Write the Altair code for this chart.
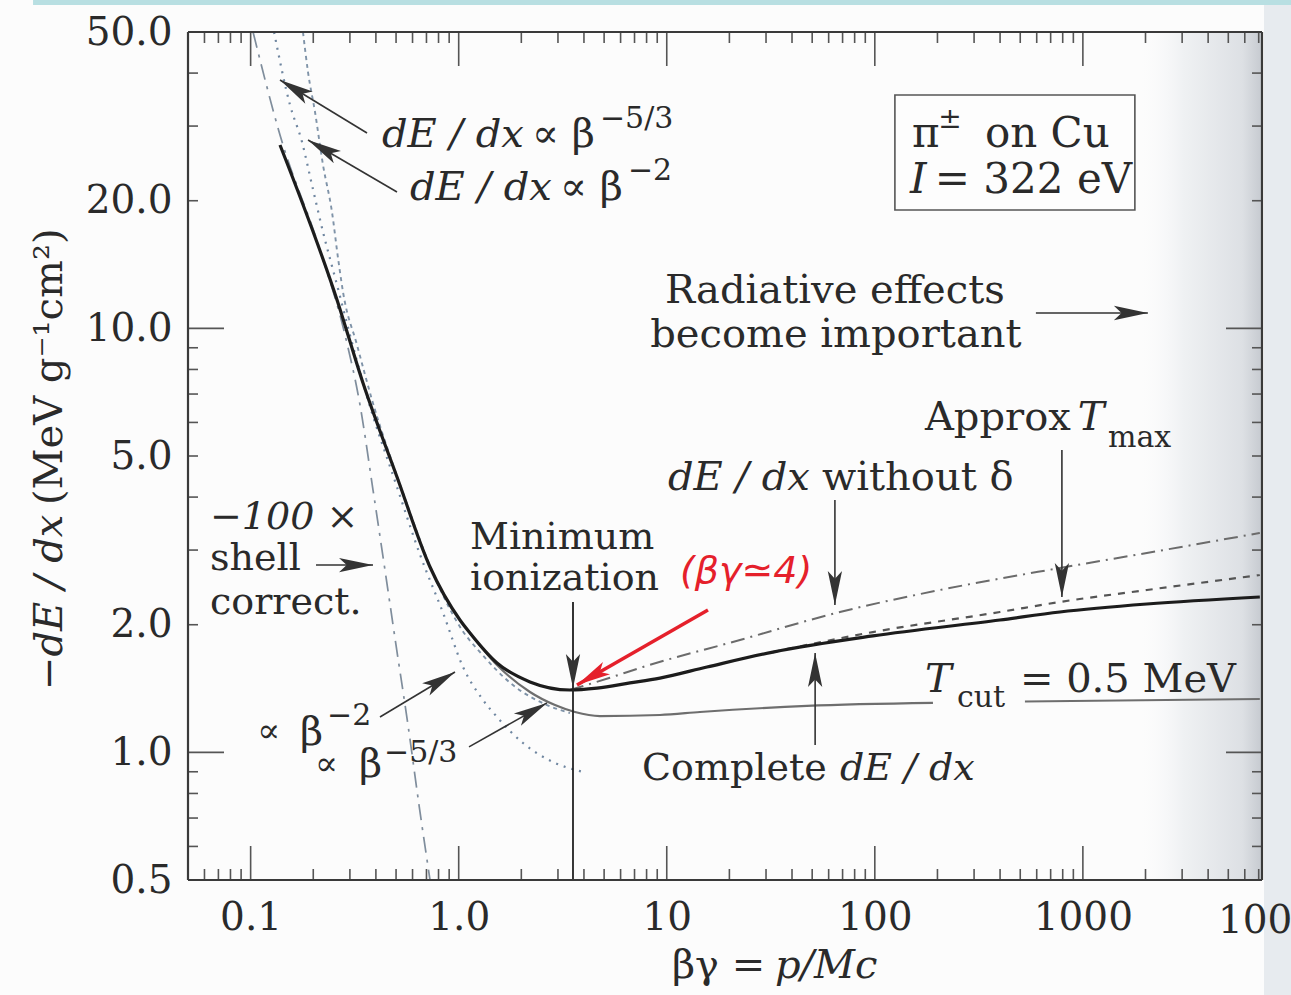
import altair as alt
import numpy as np
import pandas as pd

# ---------------------------------------------------------------
# Stopping power of pions in copper: -dE/dx (MeV g^-1 cm^2) vs βγ
# ---------------------------------------------------------------

# Complete dE/dx
complete_bg = [0.1384, 0.2602, 0.3468, 0.5052, 0.728, 1.014, 1.133, 1.528, 2.201,
               3.426, 4.619, 6.657, 9.275, 15.61, 32.38, 97.9, 399.3, 775.6, 2030, 7088]
complete_v = [27.07, 11.67, 7.43, 4.46, 2.736, 2.052, 1.912, 1.625, 1.466,
              1.403, 1.418, 1.458, 1.497, 1.590, 1.724, 1.882, 2.052, 2.143, 2.238, 2.325]

# dE/dx without density-effect correction
nodelta_bg = [3.426, 5.333, 7.687, 22.48, 67.95, 205.5, 775.6, 2030, 7088]
nodelta_v = [1.403, 1.50, 1.590, 1.841, 2.143, 2.415, 2.722, 2.953, 3.292]

# Approximate T_max
tmax_bg = [32.38, 97.9, 399.3, 775.6, 2030, 7088]
tmax_v = [1.724, 1.922, 2.143, 2.263, 2.415, 2.620]

# Restricted loss, T_cut = 0.5 MeV (two pieces, broken under its label)
tcut_bg = [1.133, 1.528, 2.201, 2.903, 3.622, 4.775, 9.275, 14.44, 47.19, 190.3, 526.8, 7088]
tcut_v = [1.912, 1.607, 1.388, 1.293, 1.245, 1.218, 1.225, 1.245, 1.287, 1.308, 1.318, 1.336]
tcut_seg = [0, 0, 0, 0, 0, 0, 0, 0, 0, 0, 1, 1]

# -100 x shell correction
shell_bg = [0.1027, 0.1384, 0.2156, 0.2842, 0.3355, 0.3875, 0.4423, 0.4996, 0.5706, 0.6446, 0.728]
shell_v = [50.0, 28.58, 15.30, 9.645, 6.597, 4.157, 2.692, 1.792, 1.160, 0.7513, 0.5]

# Low-energy power-law forms
beta2_bg = [0.1296, 0.1546, 0.1766, 0.1972, 0.2228, 0.2602, 0.3003, 0.3547, 0.5052,
            0.6526, 0.8416, 1.049, 1.309, 1.528, 2.037, 2.840, 3.957]
beta2_v = [50.0, 33.64, 27.51, 21.79, 16.88, 12.66, 9.645, 7.155, 4.225,
           2.921, 2.131, 1.590, 1.329, 1.212, 1.052, 0.949, 0.899]

beta53_bg = [0.1785, 0.1887, 0.2039, 0.2228, 0.2460, 0.2630, 0.2780, 0.3246, 0.3833,
             0.5341, 0.7779, 1.037, 1.266, 1.823, 2.657, 3.426]
beta53_v = [50.0, 40.23, 32.38, 24.28, 18.82, 14.66, 12.18, 9.14, 6.78,
            4.157, 2.550, 1.944, 1.724, 1.441, 1.293, 1.238]

# Annotation arrows: tail (bg, v) -> head (bg, v)
arrow_from_bg = [0.3625, 0.5052, 0.2062, 0.4185, 1.1207, 3.543, 64.3, 792.9, 51.66, 594.6]
arrow_from_v = [28.89, 20.97, 2.766, 1.212, 1.030, 2.263, 3.937, 5.166, 1.041, 10.87]
arrow_to_bg = [0.1384, 0.1887, 0.3875, 0.9598, 2.657, 3.543, 64.3, 792.9, 51.66, 2053]
arrow_to_v = [38.53, 27.81, 2.766, 1.547, 1.308, 1.418, 2.226, 2.325, 1.715, 10.87]

# hand-drawn note pointing to the minimum
note_from = (15.78, 2.167)
note_to = (3.703, 1.441)

# minimum-ionization marker
min_bg = 3.543
min_top, min_bottom = 2.263, 0.5

# text pieces: (text, bg, v, font size, italic)
labels = [
    ("dE / dx", 0.428, 26.78, 40, True),
    ("∝ β", 2.250, 26.78, 40, False),
    ("−5/3", 4.776, 29.69, 30, False),
    ("dE / dx", 0.5834, 20.08, 40, True),
    ("∝ β", 3.068, 20.08, 40, False),
    ("−2", 6.511, 22.38, 30, False),
    ("π", 150.8, 26.78, 42, False),
    ("±", 201.7, 29.69, 28, False),
    ("on Cu", 338.1, 26.78, 42, False),
    ("I", 147.5, 20.86, 42, True),
    ("= 322 eV", 194.3, 20.86, 42, False),
    ("Approx", 174.1, 5.759, 40, False),
    ("T", 946.0, 5.759, 40, True),
    ("max", 1320.0, 5.25, 30, False),
    ("dE / dx", 10.13, 4.157, 40, True),
    ("without δ", 55.7, 4.157, 40, False),
    ("Minimum", 1.133, 3.011, 38, False),
    ("ionization", 1.133, 2.415, 38, False),
    ("Complete", 7.6, 0.861, 38, False),
    ("dE / dx", 67.96, 0.861, 38, True),
    ("T", 174.1, 1.388, 40, True),
    ("cut", 248.1, 1.279, 30, False),
    ("= 0.5 MeV", 498.2, 1.388, 40, False),
    ("−100 ×", 0.0638, 3.370, 38, True),
    ("shell", 0.0638, 2.692, 38, False),
    ("correct.", 0.0638, 2.125, 38, False),
    ("∝", 0.1075, 1.058, 34, False),
    ("β", 0.1728, 1.041, 40, False),
    ("−2", 0.2329, 1.160, 30, False),
    ("∝", 0.2039, 0.884, 34, False),
    ("β", 0.3318, 0.875, 40, False),
    ("−5/3", 0.4375, 0.949, 30, False),
    ("βγ =", 10.59, 0.2937, 40, False),
    ("p/Mc", 33.11, 0.2937, 40, True),
]
centered_labels = [
    ("Radiative effects", 64.3, 11.47, 40),
    ("become important", 65.0, 9.04, 40),
    ("10000", 10000.0, 0.375, 39),
]
y_title = [("−dE / dx", 0.01241, 1.403, True), ("(MeV g⁻¹cm²)", 0.01241, 3.832, False)]
note_text = ("(βγ≃4)", 11.57, 2.509)
legend_box = (124.9, 1778.0, 35.51, 19.02)

x_tick_labels = [0.1, 1, 10, 100, 1000]
y_tick_labels = [0.5, 1, 2, 5, 10, 20, 50]

# ---------------------------------------------------------------
W, H = 1074, 848
X_DOMAIN = [0.05, 7260]
Y_DOMAIN = [0.5, 50]
PX_X = W / np.log10(X_DOMAIN[1] / X_DOMAIN[0])
PX_Y = H / np.log10(Y_DOMAIN[1] / Y_DOMAIN[0])
SERIF = "DejaVu Serif"
INK = "#2a2a2a"

xs = alt.Scale(type="log", domain=X_DOMAIN, nice=False)
ys = alt.Scale(type="log", domain=Y_DOMAIN, nice=False)
x_axis = alt.Axis(values=x_tick_labels, title=None, ticks=False, domain=False, grid=False,
                  labelExpr="datum.value < 0.5 ? '0.1' : (datum.value < 5 ? '1.0' : format(datum.value, 'd'))",
                  labelFont=SERIF, labelFontSize=39, labelColor=INK, labelPadding=18,
                  labelFlush=False, labelOverlap=False)
y_axis = alt.Axis(values=y_tick_labels, title=None, ticks=False, domain=False, grid=False,
                  format=".1f", labelFont=SERIF, labelFontSize=39, labelColor=INK,
                  labelPadding=16, labelFlush=False, labelOverlap=False)


def X(field="bg"):
    return alt.X(f"{field}:Q", scale=xs, axis=x_axis)


def Y(field="v"):
    return alt.Y(f"{field}:Q", scale=ys, axis=y_axis)


def one_row():
    return pd.DataFrame({"k": [0]})


layers = []

# shaded "radiative" region and page edges
shade = pd.DataFrame({"bg": [1700.0], "bg2": [X_DOMAIN[1]], "v": [Y_DOMAIN[0]], "v2": [Y_DOMAIN[1]]})
layers.append(alt.Chart(shade).mark_rect(color=alt.Gradient(
    gradient="linear", x1=0, x2=1, y1=0, y2=0,
    stops=[alt.GradientStop(color="rgba(255,255,255,0)", offset=0),
           alt.GradientStop(color="#eff1f3", offset=0.4),
           alt.GradientStop(color="#dde0e4", offset=0.85),
           alt.GradientStop(color="#c6cad0", offset=1)])).encode(
    x=X(), x2="bg2", y=Y(), y2="v2"))
edge = pd.DataFrame({"bg": [7420.0], "bg2": [12000.0], "v": [0.2], "v2": [80.0]})
layers.append(alt.Chart(edge).mark_rect(color="#e7ebef").encode(x=X(), x2="bg2", y=Y(), y2="v2"))
band = pd.DataFrame({"bg": [0.009], "bg2": [12000.0], "v": [57.9], "v2": [90.0]})
layers.append(alt.Chart(band).mark_rect(color="#b8dfe2").encode(x=X(), x2="bg2", y=Y(), y2="v2"))

# ticks (inward, on all four sides)
xt = [k * 10.0 ** d for d in range(-2, 4) for k in range(1, 10)]
xt = [t for t in xt if X_DOMAIN[0] <= t <= X_DOMAIN[1]]
yt = [k * 10.0 ** d for d in range(-1, 2) for k in range(1, 10)]
yt = [t for t in yt if Y_DOMAIN[0] <= t <= Y_DOMAIN[1]]
xt_df = pd.DataFrame({"bg": xt, "major": [abs(np.log10(t) - round(np.log10(t))) < 1e-9 for t in xt]})
yt_df = pd.DataFrame({"v": yt, "major": [abs(np.log10(t) - round(np.log10(t))) < 1e-9 for t in yt]})
TICK = dict(color="#555", strokeWidth=1.6)
for major, L in [(True, 34), (False, 11)]:
    d = xt_df[xt_df.major == major]
    layers.append(alt.Chart(d).mark_rule(**TICK).encode(x=X(), y=alt.value(0), y2=alt.value(L)))
    layers.append(alt.Chart(d).mark_rule(**TICK).encode(x=X(), y=alt.value(H), y2=alt.value(H - L)))
for major, L in [(True, 36), (False, 10)]:
    d = yt_df[yt_df.major == major]
    layers.append(alt.Chart(d).mark_rule(**TICK).encode(y=Y(), x=alt.value(0), x2=alt.value(L)))
    layers.append(alt.Chart(d).mark_rule(**TICK).encode(y=Y(), x=alt.value(W), x2=alt.value(W - L)))


def curve(bg, v, color, width, dash=None, seg=None):
    df = pd.DataFrame({"bg": bg, "v": v, "seg": seg if seg is not None else [0] * len(bg)})
    kw = dict(color=color, strokeWidth=width, interpolate="monotone")
    if dash:
        kw["strokeDash"] = dash
    return alt.Chart(df).mark_line(**kw).encode(x=X(), y=Y(), detail="seg:N")


layers.append(curve(shell_bg, shell_v, "#7f8d9c", 1.7, [16, 7, 3, 7]))
layers.append(curve(beta2_bg, beta2_v, "#6f86a0", 2.2, [2, 6]))
layers.append(curve(beta53_bg, beta53_v, "#7f93a8", 1.9, [4, 4]))
layers.append(curve(tcut_bg, tcut_v, "#6e6e6e", 2.2, None, tcut_seg))
layers.append(curve(nodelta_bg, nodelta_v, "#6b6b6b", 2.0, [14, 6, 2, 6]))
layers.append(curve(tmax_bg, tmax_v, "#555555", 2.2, [7, 7]))
layers.append(curve(complete_bg, complete_v, "#1c1c1c", 3.2))

# minimum-ionization marker line
mdf = pd.DataFrame({"bg": [min_bg], "v": [min_top], "v2": [min_bottom]})
layers.append(alt.Chart(mdf).mark_rule(color="#222", strokeWidth=1.8).encode(x=X(), y=Y(), y2="v2"))

# arrows
ARROW = "M0,0L0.42,2L0,1.55L-0.42,2Z"


def arrows(b1, v1, b2, v2, color, width):
    df = pd.DataFrame({"bg": b1, "v": v1, "bg2": b2, "v2": v2})
    dx = (np.log10(df.bg2) - np.log10(df.bg)) * PX_X
    dy = -(np.log10(df.v2) - np.log10(df.v)) * PX_Y
    df["ang"] = np.degrees(np.arctan2(dx, -dy)) % 360
    shaft = alt.Chart(df).mark_rule(color=color, strokeWidth=width).encode(
        x=X(), y=Y(), x2="bg2", y2="v2")
    head_df = pd.DataFrame({"bg": df.bg2, "v": df.v2, "ang": df.ang})
    head = alt.Chart(head_df).mark_point(shape=ARROW, filled=True, size=1156, opacity=1,
                                         color=color, strokeWidth=0).encode(
        x=X(), y=Y(), angle=alt.Angle("ang:Q", scale=None))
    return [shaft, head]


layers += arrows(arrow_from_bg, arrow_from_v, arrow_to_bg, arrow_to_v, "#333", 1.6)
layers += arrows([note_from[0]], [note_from[1]], [note_to[0]], [note_to[1]], "#e5202b", 3.5)

# legend box
b = legend_box
box = pd.DataFrame({"bg": [b[0]], "bg2": [b[1]], "v": [b[2]], "v2": [b[3]]})
layers.append(alt.Chart(box).mark_rect(fill="#fdfdfd", stroke="#555", strokeWidth=1.6).encode(
    x=X(), x2="bg2", y=Y(), y2="v2"))


def text_layer(text, bg, v, size, italic=False, align="left", color=INK, angle=None,
               font=SERIF, dx=0):
    df = pd.DataFrame({"bg": [bg], "v": [v], "t": [text]})
    props = dict(font=font, fontSize=size, align=align, baseline="alphabetic", color=color, dx=dx)
    if italic:
        props["fontStyle"] = "italic"
    if angle is not None:
        props["angle"] = angle
    return alt.Chart(df).mark_text(**props).encode(x=X(), y=Y(), text="t:N")


for t, bg, v, s, it in labels:
    layers.append(text_layer(t, bg, v, s, it))
for t, bg, v, s in centered_labels:
    layers.append(text_layer(t, bg, v, s, align="center", dx=-11 if t == "10000" else 0))
for t, bg, v, it in y_title:
    layers.append(text_layer(t, bg, v, 40, it, angle=270))
layers.append(text_layer(note_text[0], note_text[1], note_text[2], 38, True,
                         color="#e5202b", font="DejaVu Sans"))

# frame
frame_col = "#3a3a3a"
one = one_row()
layers.append(alt.Chart(one).mark_rule(color=frame_col, strokeWidth=2.2).encode(
    x=alt.value(0), x2=alt.value(W), y=alt.value(0)))
layers.append(alt.Chart(one).mark_rule(color=frame_col, strokeWidth=2.2).encode(
    x=alt.value(0), x2=alt.value(W), y=alt.value(H)))
layers.append(alt.Chart(one).mark_rule(color=frame_col, strokeWidth=2.2).encode(
    x=alt.value(0), y=alt.value(0), y2=alt.value(H)))
layers.append(alt.Chart(one).mark_rule(color=frame_col, strokeWidth=2.2).encode(
    x=alt.value(W), y=alt.value(0), y2=alt.value(H)))

chart = alt.layer(*layers).properties(
    width=W, height=H,
    padding={"left": 188, "top": 32, "right": 29, "bottom": 115},
    autosize=alt.AutoSizeParams(type="none"),
    background="#fcfcfc",
).configure_view(stroke=None)

chart.save("out.html", embed_options={"renderer": "svg", "actions": False})
